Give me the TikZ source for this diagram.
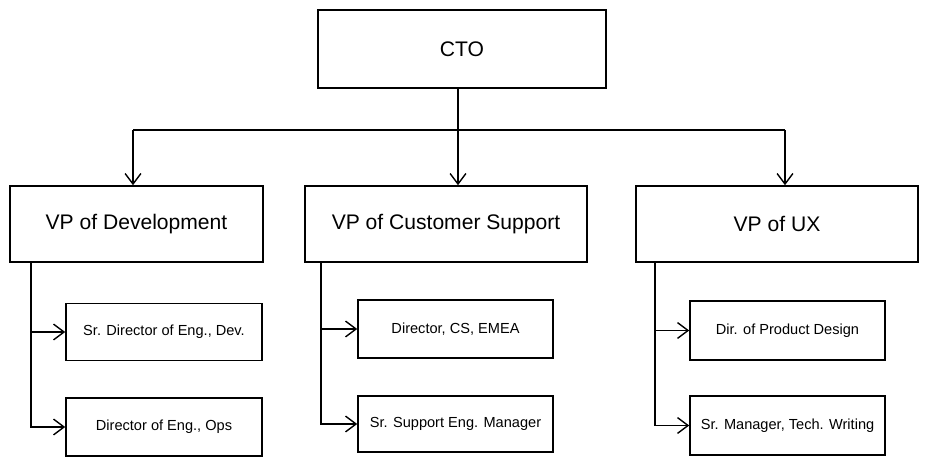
\documentclass[tikz,border=0pt]{standalone}
\usepackage{fontspec}
\setmainfont{Liberation Sans}
\usetikzlibrary{arrows.meta}
\begin{document}
\begin{tikzpicture}[x=0.02cm,y=-0.02cm,
  box/.style={draw,line width=0.9pt,rectangle,inner sep=0pt},
  big/.style={box,font=\fontsize{12}{14}\selectfont},
  small/.style={box,font=\fontsize{8.3}{10}\selectfont},
  conn/.style={line width=0.8pt},
  arr/.style={conn,-{Straight Barb[length=6pt,width=9pt]}}]
\useasboundingbox (0,0) rectangle (929,465);
\node[big,minimum width=288*0.02cm,minimum height=78*0.02cm] (cto) at (462,49) {CTO};
\node[big,minimum width=253*0.02cm,minimum height=76*0.02cm] (dev) at (136.5,224) {VP of Development};
\node[big,minimum width=282*0.02cm,minimum height=76*0.02cm] (cs) at (446,224) {VP of Customer Support};
\node[big,minimum width=282*0.02cm,minimum height=76*0.02cm] (ux) at (777,224) {VP of UX};
\node[small,minimum width=196*0.02cm,minimum height=57*0.02cm] (d1) at (164,332) {Sr. Director of Eng., Dev.};
\node[small,minimum width=196*0.02cm,minimum height=58*0.02cm] (d2) at (164,427) {Director of Eng., Ops};
\node[small,minimum width=195*0.02cm,minimum height=58*0.02cm] (c1) at (455.5,329) {Director, CS, EMEA};
\node[small,minimum width=195*0.02cm,minimum height=56*0.02cm] (c2) at (455.5,424) {Sr. Support Eng. Manager};
\node[small,minimum width=195*0.02cm,minimum height=59*0.02cm] (u1) at (787.5,330.5) {Dir. of Product Design};
\node[small,minimum width=195*0.02cm,minimum height=59*0.02cm] (u2) at (787.5,425.5) {Sr. Manager, Tech. Writing};
\coordinate (j) at (458,130);
\coordinate (jl) at (133,130);
\coordinate (jr) at (785,130);
\draw[conn] (cto.south -| j) -- (j);
\draw[conn] (jl) -- (jr);
\draw[arr] (jl) -- (jl |- dev.north);
\draw[arr] (j) -- (j |- cs.north);
\draw[arr] (jr) -- (jr |- ux.north);
\coordinate (dv) at (31,262);
\coordinate (cv) at (321,262);
\coordinate (uv) at (655,262);
\draw[arr] (dv) |- (d2.west);
\draw[arr] (dv |- d1.west) -- (d1.west);
\draw[arr] (cv) |- (c2.west);
\draw[arr] (cv |- c1.west) -- (c1.west);
\draw[arr] (uv) |- (u2.west);
\draw[arr] (uv |- u1.west) -- (u1.west);
\end{tikzpicture}
\end{document}
